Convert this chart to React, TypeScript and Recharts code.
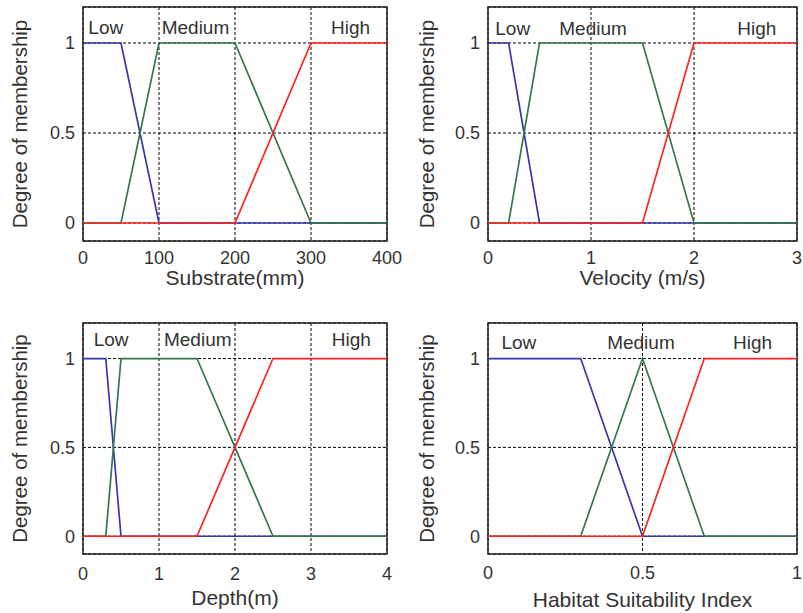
import {
  CartesianGrid,
  Label,
  Line,
  LineChart,
  ReferenceArea,
  ReferenceDot,
  XAxis,
  YAxis,
} from "recharts";

type Pt = [number, number];

// membership functions (x, degree)
const yTicks = [0, 0.5, 1];
const setNames = ["Low", "Medium", "High"];

const substrateTicks = [0, 100, 200, 300, 400];
const substrateLow: Pt[] = [[0, 1], [50, 1], [100, 0], [400, 0]];
const substrateMedium: Pt[] = [[0, 0], [50, 0], [100, 1], [200, 1], [300, 0], [400, 0]];
const substrateHigh: Pt[] = [[0, 0], [200, 0], [300, 1], [400, 1]];

const velocityTicks = [0, 1, 2, 3];
const velocityLow: Pt[] = [[0, 1], [0.2, 1], [0.5, 0], [3, 0]];
const velocityMedium: Pt[] = [[0, 0], [0.2, 0], [0.5, 1], [1.5, 1], [2, 0], [3, 0]];
const velocityHigh: Pt[] = [[0, 0], [1.5, 0], [2, 1], [3, 1]];

const depthTicks = [0, 1, 2, 3, 4];
const depthLow: Pt[] = [[0, 1], [0.3, 1], [0.5, 0], [4, 0]];
const depthMedium: Pt[] = [[0, 0], [0.3, 0], [0.5, 1], [1.5, 1], [2.5, 0], [4, 0]];
const depthHigh: Pt[] = [[0, 0], [1.5, 0], [2.5, 1], [4, 1]];

const hsiTicks = [0, 0.5, 1];
const hsiLow: Pt[] = [[0, 1], [0.3, 1], [0.5, 0], [1, 0]];
const hsiMedium: Pt[] = [[0, 0], [0.3, 0], [0.5, 1], [0.7, 0], [1, 0]];
const hsiHigh: Pt[] = [[0, 0], [0.5, 0], [0.7, 1], [1, 1]];

const COLORS = ["#3535b0", "#33774a", "#ff2323"];
const TEXT = "#333";
const FONT = "'Liberation Sans', Arial, Helvetica, sans-serif";

interface PanelProps {
  title: string;
  ticks: number[];
  series: Pt[][];
  left: number;
  top: number;
  width: number;
  height: number;
  marginTop: number;
  marginRight: number;
  tickGap: number;
  xLabelOffset: number;
  yLabelOffset: number;
  // where the set names sit, in data units
  nameX: number[];
  nameY: number;
}

const Panel = (p: PanelProps) => {
  const xMin = p.ticks[0];
  const xMax = p.ticks[p.ticks.length - 1];
  return (
    <div style={{ position: "absolute", left: p.left, top: p.top }}>
      <LineChart
        width={p.width}
        height={p.height}
        margin={{ top: p.marginTop, right: p.marginRight, left: 13, bottom: 0 }}
        style={{ fontFamily: FONT }}
      >
        <CartesianGrid stroke="#000" strokeDasharray="3 2" strokeWidth={1} />
        <XAxis
          type="number"
          dataKey="x"
          domain={[xMin, xMax]}
          ticks={p.ticks}
          interval={0}
          height={59}
          axisLine={false}
          tickLine={false}
          tickMargin={p.tickGap}
          tick={{ fontSize: 18, fill: TEXT }}
        >
          <Label
            value={p.title}
            position="insideBottom"
            offset={p.xLabelOffset}
            fontSize={21}
            fill={TEXT}
          />
        </XAxis>
        <YAxis
          type="number"
          domain={[-0.1, 1.2]}
          ticks={yTicks}
          interval={0}
          width={70}
          axisLine={false}
          tickLine={false}
          tick={{ fontSize: 18, fill: TEXT }}
        >
          <Label
            value="Degree of membership"
            position="insideLeft"
            angle={-90}
            textAnchor="middle"
            offset={p.yLabelOffset}
            fontSize={20.5}
            fill={TEXT}
          />
        </YAxis>
        {p.series.map((s, i) => (
          <Line
            key={setNames[i]}
            data={s.map(([x, y]) => ({ x, y }))}
            dataKey="y"
            type="linear"
            stroke={COLORS[i]}
            strokeWidth={1.7}
            dot={false}
            isAnimationActive={false}
          />
        ))}
        <ReferenceArea
          x1={xMin}
          x2={xMax}
          y1={-0.1}
          y2={1.2}
          fill="none"
          stroke="#222"
          strokeWidth={1.5}
        />
        {setNames.map((name, i) => (
          <ReferenceDot
            key={name}
            x={p.nameX[i]}
            y={p.nameY}
            r={0}
            fill="none"
            stroke="none"
            label={{ value: name, position: "center", fontSize: 19, fill: TEXT }}
          />
        ))}
      </LineChart>
    </div>
  );
};

export default function App() {
  return (
    <div
      style={{
        position: "absolute",
        left: 0,
        top: 0,
        width: 803,
        height: 613,
        background: "#fff",
        fontFamily: FONT,
      }}
    >
      <Panel
        title="Substrate(mm)"
        ticks={substrateTicks}
        series={[substrateLow, substrateMedium, substrateHigh]}
        left={0}
        top={0}
        width={405}
        height={300}
        marginTop={7}
        marginRight={18}
        tickGap={4}
        xLabelOffset={15}
        yLabelOffset={7}
        nameX={[30, 148, 352]}
        nameY={1.09}
      />
      <Panel
        title="Velocity (m/s)"
        ticks={velocityTicks}
        series={[velocityLow, velocityMedium, velocityHigh]}
        left={405}
        top={0}
        width={398}
        height={300}
        marginTop={7}
        marginRight={6}
        tickGap={4}
        xLabelOffset={15}
        yLabelOffset={9}
        nameX={[0.24, 1.02, 2.61]}
        nameY={1.08}
      />
      <Panel
        title="Depth(m)"
        ticks={depthTicks}
        series={[depthLow, depthMedium, depthHigh]}
        left={0}
        top={300}
        width={405}
        height={313}
        marginTop={23}
        marginRight={18}
        tickGap={7}
        xLabelOffset={8}
        yLabelOffset={7}
        nameX={[0.37, 1.51, 3.53]}
        nameY={1.11}
      />
      <Panel
        title="Habitat Suitability Index"
        ticks={hsiTicks}
        series={[hsiLow, hsiMedium, hsiHigh]}
        left={405}
        top={300}
        width={398}
        height={313}
        marginTop={23}
        marginRight={6}
        tickGap={6}
        xLabelOffset={6}
        yLabelOffset={9}
        nameX={[0.1, 0.495, 0.856]}
        nameY={1.09}
      />
    </div>
  );
}
